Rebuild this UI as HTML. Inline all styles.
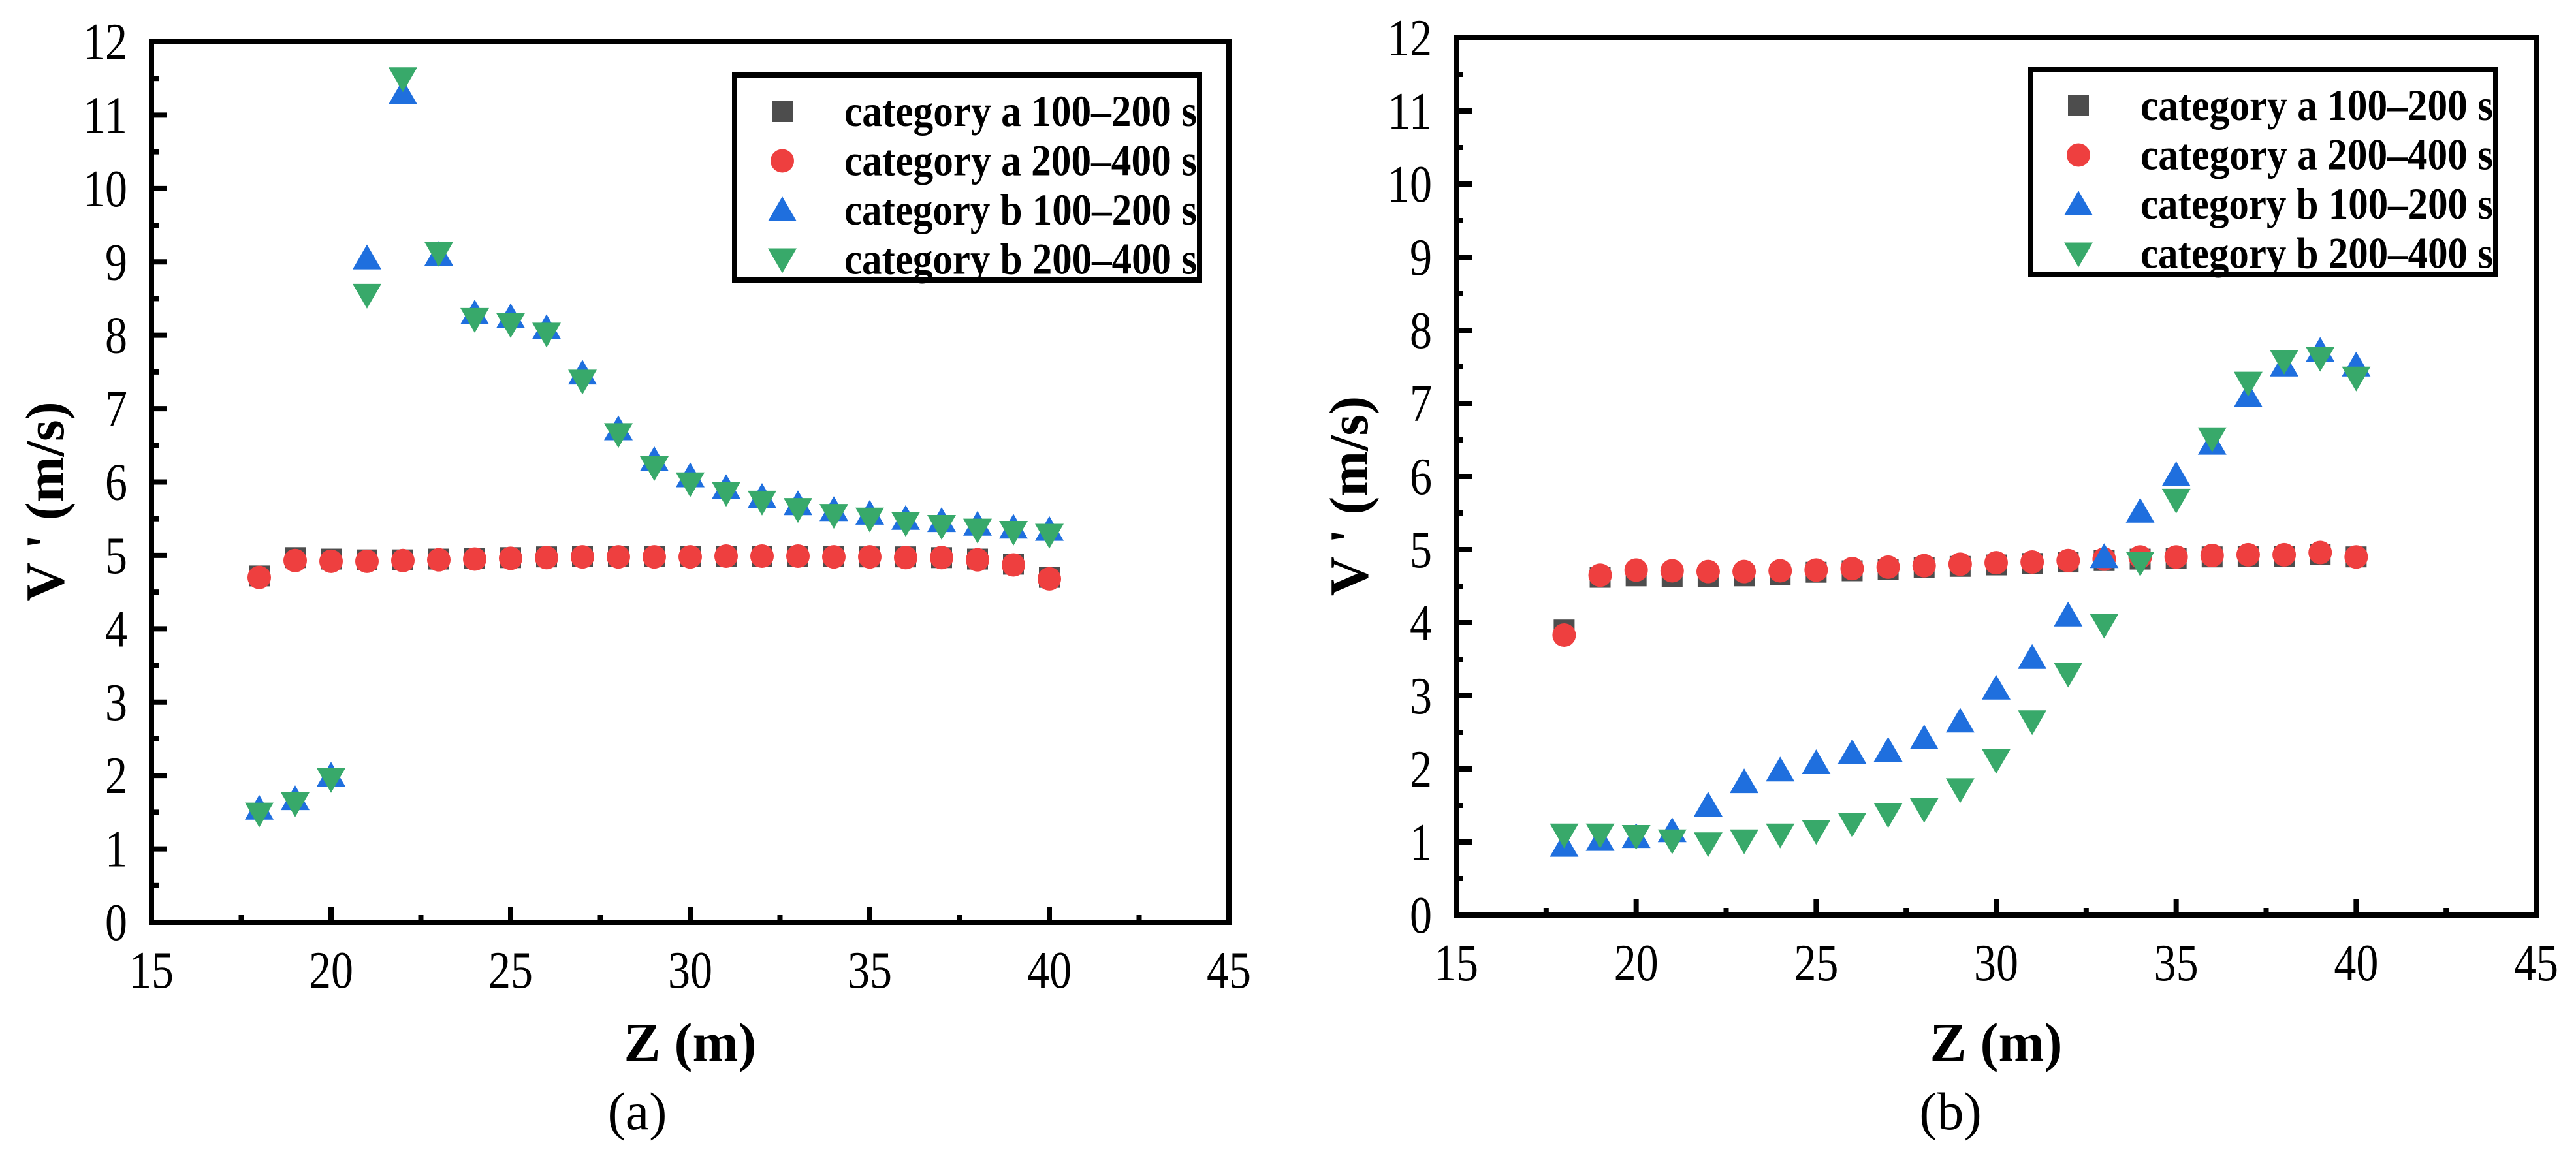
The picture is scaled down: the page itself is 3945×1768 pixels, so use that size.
<!DOCTYPE html>
<html><head><meta charset="utf-8"><style>
html,body{margin:0;padding:0;background:#fff;}
svg{display:block;}
svg text{font-family:"Liberation Serif","DejaVu Serif","Times New Roman",serif !important;fill:#000;}
</style></head>
<body>
<svg id="chart" width="3945" height="1768" viewBox="0 0 3945 1768" xmlns="http://www.w3.org/2000/svg" font-family="Liberation Serif, DejaVu Serif, serif"></svg>
<script>
const zValues=[18,19,20,21,22,23,24,25,26,27,28,29,30,31,32,33,34,35,36,37,38,39,40];
const aSq_a=[4.72,4.97,4.95,4.94,4.94,4.95,4.96,4.97,4.98,4.99,4.99,4.99,4.99,4.99,4.99,4.99,4.99,4.98,4.98,4.97,4.95,4.88,4.7];
const aCi_a=[4.7,4.93,4.92,4.92,4.93,4.94,4.95,4.96,4.97,4.98,4.98,4.98,4.98,4.99,4.99,4.99,4.98,4.98,4.97,4.97,4.94,4.87,4.68];
const bUp_a=[1.55,1.68,2.0,9.05,11.3,9.1,8.3,8.25,8.1,7.48,6.72,6.3,6.08,5.92,5.8,5.7,5.62,5.57,5.5,5.47,5.42,5.38,5.35];
const bDn_a=[1.48,1.62,1.95,8.55,11.5,9.12,8.22,8.15,8.02,7.38,6.65,6.2,5.98,5.85,5.73,5.63,5.55,5.5,5.44,5.4,5.35,5.32,5.28];
const aSq_b=[3.9,4.62,4.64,4.63,4.63,4.64,4.66,4.69,4.71,4.73,4.75,4.77,4.79,4.81,4.83,4.85,4.87,4.88,4.9,4.91,4.91,4.93,4.9];
const aCi_b=[3.83,4.65,4.72,4.71,4.7,4.7,4.71,4.72,4.74,4.76,4.78,4.8,4.82,4.83,4.85,4.87,4.9,4.9,4.92,4.93,4.93,4.96,4.9];
const bUp_b=[0.95,1.03,1.07,1.15,1.5,1.82,1.98,2.08,2.22,2.25,2.42,2.65,3.1,3.52,4.1,4.9,5.52,6.02,6.45,7.1,7.52,7.72,7.52];
const bDn_b=[1.1,1.1,1.08,1.02,0.98,1.02,1.1,1.15,1.25,1.38,1.45,1.72,2.12,2.65,3.3,3.97,4.82,5.68,6.52,7.28,7.58,7.62,7.35];
const xTicks=[15,20,25,30,35,40,45];
const yTicks=[0,1,2,3,4,5,6,7,8,9,10,11,12];
const legendLabels=["category a 100–200 s","category a 200–400 s","category b 100–200 s","category b 200–400 s"];
const COLORS=["#4d4d4d","#ee3f3f","#1f6fde","#38a96a"];

const NS="http://www.w3.org/2000/svg";
const FONT="Liberation Serif, DejaVu Serif, serif";
const svg=document.getElementById('chart');
function mk(tag,attrs,parent){const e=document.createElementNS(NS,tag);for(const k in attrs)e.setAttribute(k,attrs[k]);if(tag==='text')e.setAttribute('font-family',FONT);(parent||svg).appendChild(e);return e;}

function marker(g,type,cx,cy,name){
  let e;
  if(type===0){e=mk('rect',{x:cx-16,y:cy-16,width:32,height:32,fill:COLORS[0]},g);}
  else if(type===1){e=mk('ellipse',{cx:cx,cy:cy,rx:18,ry:18,fill:COLORS[1]},g);}
  else if(type===2){e=mk('polygon',{points:`${cx},${cy-21} ${cx+22},${cy+17} ${cx-22},${cy+17}`,fill:COLORS[2]},g);}
  else {e=mk('polygon',{points:`${cx},${cy+21} ${cx+22},${cy-17} ${cx-22},${cy-17}`,fill:COLORS[3]},g);}
  
  
  return e;
}

function panel(p){
  const g=mk('g',{});
  
  
  const X=v=>p.L+(v-15)/30*(p.R-p.L);
  const Y=v=>p.B-v/12*(p.B-p.T);
  xTicks.forEach((t,i)=>{
    const x=X(t);
    if(i>0&&i<xTicks.length-1){const tk=mk('line',{x1:x,y1:p.B,x2:x,y2:p.B-24,stroke:'#000','stroke-width':8},g);
      }
    if(i<xTicks.length-1){const xm=X(t+2.5);const m=mk('line',{x1:xm,y1:p.B,x2:xm,y2:p.B-11,stroke:'#000','stroke-width':8},g);
      }
    const lb=mk('text',{x:x,y:p.B+100,'font-size':80,'text-anchor':'middle',textLength:68,lengthAdjust:'spacingAndGlyphs'},g);
    lb.textContent=t;
    
  });
  yTicks.forEach((t,i)=>{
    const y=Y(t);
    if(i>0&&i<yTicks.length-1){const tk=mk('line',{x1:p.L,y1:y,x2:p.L+24,y2:y,stroke:'#000','stroke-width':8},g);
      }
    if(i<yTicks.length-1){const ym=Y(t+0.5);const m=mk('line',{x1:p.L,y1:ym,x2:p.L+11,y2:ym,stroke:'#000','stroke-width':8},g);
      }
    const s=String(t);
    const lb=mk('text',{x:p.L-37,y:y+27,'font-size':80,'text-anchor':'end',textLength:34*s.length,lengthAdjust:'spacingAndGlyphs'},g);
    lb.textContent=s;
    
  });
  const series=[p.sq,p.ci,p.up,p.dn];
  const snames=['series-a-100-200','series-a-200-400','series-b-100-200','series-b-200-400'];
  series.forEach((arr,si)=>{
    const sg=mk('g',{},g);
    
    
    arr.forEach((v,i)=>marker(sg,si,X(zValues[i]),Y(v),'point'));
  });
  const fr=mk('rect',{x:p.L,y:p.T,width:p.R-p.L,height:p.B-p.T,fill:'none',stroke:'#000','stroke-width':8},g);
  
  const lg=mk('g',{},g);
  
  const lr=mk('rect',{x:p.lx,y:p.ly,width:712,height:314,fill:'#fff',stroke:'#000','stroke-width':8},lg);
  
  legendLabels.forEach((s,i)=>{
    const cy=p.ly+56+i*75.5;
    marker(lg,i,p.lx+73,cy,'legend-marker');
    const t=mk('text',{x:p.lx+168,y:cy+22,'font-size':68,'font-weight':'bold',textLength:540,lengthAdjust:'spacingAndGlyphs'},lg);
    t.textContent=s;
    
  });
  const xt=mk('text',{x:X(30),y:1625,'font-size':84,'font-weight':'bold','text-anchor':'middle'},g);
  xt.textContent='Z (m)';
  
  const yc=(p.T+p.B)/2+30;
  const yt=mk('text',{x:0,y:0,'font-size':84,'font-weight':'bold','text-anchor':'middle',transform:`translate(${p.yx+28},${yc}) rotate(-90)`},g);
  yt.textContent="V ' (m/s)";
  
  const cap=mk('text',{x:p.capx,y:1730,'font-size':82,'text-anchor':'middle'},g);
  cap.textContent=p.cap;
  
}

panel({id:'a',L:232,R:1882,T:64,B:1413,sq:aSq_a,ci:aCi_a,up:bUp_a,dn:bDn_a,lx:1125,ly:115,yx:69,capx:976,cap:'(a)'});
panel({id:'b',L:2230,R:3884,T:58,B:1402,sq:aSq_b,ci:aCi_b,up:bUp_b,dn:bDn_b,lx:3110,ly:106,yx:2066,capx:2987,cap:'(b)'});
</script>
</body></html>
